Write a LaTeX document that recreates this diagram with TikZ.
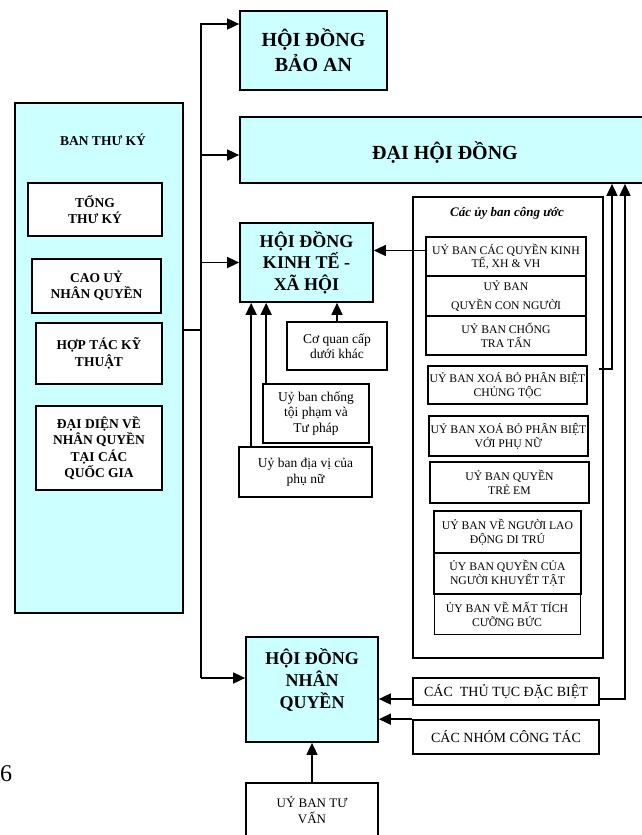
\documentclass[tikz,border=0pt]{standalone}
\usepackage{fontspec}
\setmainfont{Liberation Serif}
\usepackage{tikz}
\usetikzlibrary{arrows.meta}
\usetikzlibrary{positioning}

\definecolor{xanhnhat}{HTML}{CCFFFF}

\tikzset{
  khung/.style={draw, line width=1.7pt, align=center, inner sep=0.5pt},
  xanh/.style={khung, fill=xanhnhat},
  trang/.style={khung, fill=white},
  kichthuoc/.style 2 args={minimum width=#1, minimum height=#2},
  muiten/.style={line width=1.6pt, -{Triangle[length=12pt,width=11pt]}},
  noi/.style={line width=1.6pt},
  chuto/.style={font=\fontsize{20}{25}\selectfont\bfseries},
  chuvua/.style={font=\fontsize{18}{21.7}\selectfont\bfseries},
  chudam/.style={font=\fontsize{13.5}{16.5}\selectfont\bfseries},
  chuthuong/.style={font=\fontsize{13.5}{15.6}\selectfont},
  chunho/.style={font=\fontsize{11.7}{14}\selectfont},
}

\begin{document}
\begin{tikzpicture}[x=1pt, y=-1pt]
  \useasboundingbox (0,0) rectangle (641,835);

  % Ban thu ky
  \node[xanh, kichthuoc={168}{510}] (banthuky) at (99,358) {};
  \node[chudam] (tieudeban) at (103,140) {BAN THƯ KÝ};
  \node[trang, chudam, kichthuoc={134}{53}] (tongthuky) at (95,209.5) {TỔNG\\THƯ KÝ};
  \node[trang, chudam, kichthuoc={129}{54}] (caouy) at (96.5,286) {CAO UỶ\\NHÂN QUYỀN};
  \node[trang, chudam, kichthuoc={126}{61}] (hoptac) at (99,353.5) {HỢP TÁC KỸ\\THUẬT};
  \node[trang, chudam, kichthuoc={126}{84}] (daidien) at (99,448) {ĐẠI DIỆN VỀ\\NHÂN QUYỀN\\TẠI CÁC\\QUỐC GIA};

  % Cac hoi dong
  \node[xanh, chuto, kichthuoc={147}{79}] (baoan) at (313.5,50.5) {HỘI ĐỒNG\\BẢO AN};
  \node[xanh, chuto, kichthuoc={410}{66}, text height=22pt] (daihoidong) at (445,150) {ĐẠI HỘI ĐỒNG};
  \node[xanh, chuvua, kichthuoc={133}{79}] (kinhte) at (306.5,262.5) {HỘI ĐỒNG\\KINH TẾ -\\XÃ HỘI};
  \node[xanh, chuvua, kichthuoc={132}{105}, text depth=22pt] (nhanquyen) at (312,689.5) {HỘI ĐỒNG\\NHÂN\\QUYỀN};

  % Co quan duoi Kinh te - Xa hoi
  \node[trang, chuthuong, kichthuoc={100}{48}] (coquan) at (337,346) {Cơ quan cấp\\dưới khác};
  \node[trang, chuthuong, kichthuoc={106}{59}] (chongtoipham) at (316,413.5) {Uỷ ban chống\\tội phạm và\\Tư pháp};
  \node[trang, chuthuong, kichthuoc={133}{50}] (diavi) at (305.5,472) {Uỷ ban địa vị của\\phụ nữ};

  % Cac uy ban cong uoc
  \node[trang, kichthuoc={190}{461}] (congtuoc) at (508,427.5) {};
  \node[font=\fontsize{13}{15}\selectfont\bfseries\itshape] (tieudect) at (507,213) {Các ủy ban công ước};
  \node[trang, kichthuoc={160}{39}, font=\fontsize{11.7}{11.5}\selectfont] (ktxh) at (506,256.5) {UỶ BAN CÁC QUYỀN KINH\\TẾ, XH \& VH};
  \node[trang, kichthuoc={160}{40}, font=\fontsize{11.7}{18.5}\selectfont] (connguoi) at (506,296) {UỶ BAN\\QUYỀN CON NGƯỜI};
  \node[trang, chunho, kichthuoc={160}{39}] (tratan) at (506,335.5) {UỶ BAN CHỐNG\\TRA TẤN};
  \node[trang, chunho, kichthuoc={159}{38}] (chungtoc) at (507.5,385) {UỶ BAN XOÁ BỎ PHÂN BIỆT\\CHỦNG TỘC};
  \node[trang, chunho, kichthuoc={159}{40}] (phunu) at (508.5,436) {UỶ BAN XOÁ BỎ PHÂN BIỆT\\VỚI PHỤ NỮ};
  \node[trang, chunho, kichthuoc={159}{41}] (treem) at (509.5,482.5) {UỶ BAN QUYỀN\\TRẺ EM};
  \node[trang, chunho, kichthuoc={147}{42}] (laodong) at (507.5,532) {UỶ BAN VỀ NGƯỜI LAO\\ĐỘNG DI TRÚ};
  \node[trang, chunho, kichthuoc={147}{41}] (khuyettat) at (507.5,573.5) {ỦY BAN QUYỀN CỦA\\NGƯỜI KHUYẾT TẬT};
  \node[trang, chunho, kichthuoc={146}{40}, line width=0.8pt] (mattich) at (507,614) {ỦY BAN VỀ MẤT TÍCH\\CƯỠNG BỨC};

  % Co quan duoi Hoi dong Nhan quyen
  \node[trang, font=\fontsize{14}{16}\selectfont, kichthuoc={186}{27}] (thutuc) at (506,691.5) {CÁC~~THỦ TỤC ĐẶC BIỆT};
  \node[trang, font=\fontsize{14}{16}\selectfont, kichthuoc={186}{34}] (nhomcongtac) at (506,737) {CÁC NHÓM CÔNG TÁC};
  \node[trang, font=\fontsize{13}{16.7}\selectfont, kichthuoc={132}{54}] (tuvan) at (312,810) {UỶ BAN TƯ\\VẤN};

  \node[font=\fontsize{24}{28}\selectfont, anchor=west, inner sep=0pt] (sotrang) at (0,774) {6};

  % Truc noi
  \coordinate (tructren) at (201,24);
  \coordinate (trucgiua) at (201,330);
  \coordinate (trucduoi) at (201,678);
  \coordinate (vaodhd) at ([yshift=-5pt]daihoidong.west);
  \coordinate (rakt) at ([yshift=6pt]ktxh.west);
  \coordinate (rachong) at ([xshift=4pt]chongtoipham.north west);
  \coordinate (radiavi) at ([xshift=13pt]diavi.north west);
  \coordinate (tu1) at (599,369);
  \coordinate (len1) at (612,369);
  \coordinate (len2) at (625,699);

  \draw[noi] (banthuky.east |- trucgiua) -- (trucgiua);
  \draw[muiten] (trucduoi) |- (baoan.west |- tructren);
  \draw[muiten] (tructren |- vaodhd) -- (vaodhd);
  \draw[muiten] (tructren |- kinhte.west) -- (kinhte.west);
  \draw[muiten] (trucduoi) -- (nhanquyen.west |- trucduoi);

  \draw[muiten] (rakt) -- (kinhte.east |- rakt);
  \draw[muiten] (coquan.north) -- (coquan.north |- kinhte.south);
  \draw[muiten] (rachong) -- (rachong |- kinhte.south);
  \draw[muiten] (radiavi) -- (radiavi |- kinhte.south);

  \draw[muiten] (tu1) -- (len1) -- (len1 |- daihoidong.south);
  \draw[muiten] (thutuc.east |- len2) -- (len2) -- (len2 |- daihoidong.south);
  \draw[muiten] (thutuc.west |- len2) -- (nhanquyen.east |- len2);
  \draw[muiten] (nhomcongtac.north west) -- (nhanquyen.east |- nhomcongtac.north west);
  \draw[muiten] (tuvan.north) -- (nhanquyen.south);

\end{tikzpicture}
\end{document}
